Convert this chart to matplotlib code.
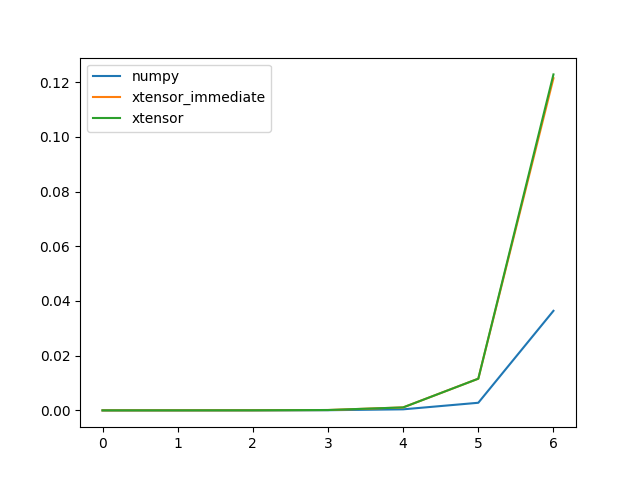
import matplotlib
matplotlib.use("Agg")
import matplotlib.pyplot as plt

x = [0, 1, 2, 3, 4, 5, 6]
numpy_t = [0.00001, 0.00001, 0.00002, 0.00008, 0.0004, 0.0028, 0.0364]
xtensor_immediate = [0.00002, 0.00003, 0.00005, 0.00015, 0.0011, 0.0116, 0.1214]
xtensor = [0.00002, 0.00003, 0.00005, 0.00015, 0.0011, 0.0116, 0.1228]

fig, ax = plt.subplots(figsize=(6.4, 4.8), dpi=100)
ax.plot(x, numpy_t, label="numpy")
ax.plot(x, xtensor_immediate, label="xtensor_immediate")
ax.plot(x, xtensor, label="xtensor")
ax.legend(loc="upper left")
fig.savefig("out.png")
